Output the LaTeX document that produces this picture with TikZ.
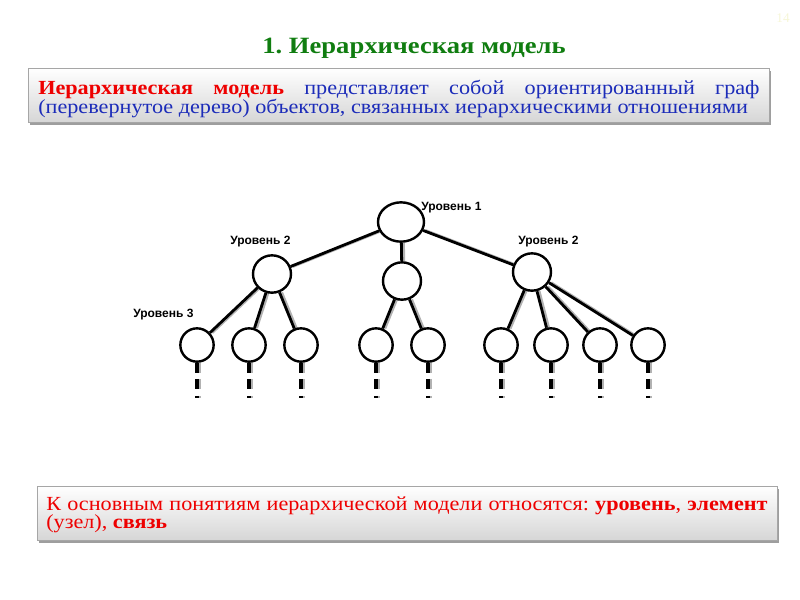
\documentclass[tikz,border=0pt]{standalone}
\usepackage{fontspec}
\usepackage{graphicx}
\setmainfont{Liberation Serif}
\newfontfamily\wserif[FakeStretch=1.11]{Liberation Serif}
\newfontfamily\tserif[FakeStretch=1.14]{Liberation Serif}
\newfontfamily\lsans{Liberation Sans}
\usetikzlibrary{shapes.geometric}
\definecolor{ttlgreen}{RGB}{16,125,16}
\definecolor{txtblue}{RGB}{28,44,185}
\definecolor{txtred}{RGB}{238,0,0}
\definecolor{pagenum}{RGB}{246,246,215}
\pgfdeclarelayer{bg}
\pgfsetlayers{bg,main}
\frenchspacing
\begin{document}
\begin{tikzpicture}[x=0.75pt,y=-0.75pt,
  lvl/.style={font=\lsans\bfseries\fontsize{9}{10}\selectfont, anchor=west, inner sep=0pt},
  root/.style={ellipse, draw, fill=white, line width=1.8pt, minimum width=34.5pt, minimum height=29.5pt, inner sep=0pt},
  mid/.style={ellipse, draw, fill=white, line width=1.8pt, minimum width=28.5pt, minimum height=28pt, inner sep=0pt},
  leaf/.style={circle, draw, fill=white, line width=1.8pt, minimum size=25pt, inner sep=0pt},
  link/.style={line width=2.1pt, black},
  linkshadow/.style={line width=2.1pt, black!30, transform canvas={xshift=1.6pt}},
  tail/.style={line width=2.3pt, black, dash pattern=on 7.5pt off 4.5pt on 7.5pt off 5.2pt on 2pt off 40pt},
  tailshadow/.style={line width=2.3pt, black!30, transform canvas={xshift=1.7pt}, dash pattern=on 7.5pt off 4.5pt on 7.5pt off 5.2pt on 2pt off 40pt},
  boxshadow/.style={fill=black!38, draw=none},
  panel/.style={top color=white, bottom color=black!16, draw=black!35, line width=0.6pt},
  body/.style={font=\wserif\fontsize{15}{17}\selectfont, anchor=base west, inner sep=0pt}
]
\useasboundingbox (0,0) rectangle (800,600);

% page number
\node (pg) [font=\fontsize{10}{12}\selectfont, text=pagenum, anchor=base] at (783,22) {14};

% title
\node (title) [font=\tserif\bfseries\fontsize{17.5}{20}\selectfont, text=ttlgreen, anchor=base, inner sep=0pt] at (414,53) {1. Иерархическая модель};

% box 1
\path[boxshadow] (30,71) rectangle (771,125);
\path[panel] (28,68) rectangle (769,122);
\node (b1a) [body] at (38,94) {\makebox[541pt][s]{\textcolor{txtred}{\bfseries Иерархическая модель} \textcolor{txtblue}{представляет собой ориентированный граф}}};
\node (b1b) [body, text=txtblue] at (38,113) {(перевернутое дерево) объектов, связанных иерархическими отношениями};

% box 2
\path[boxshadow] (39,489) rectangle (779,543);
\path[panel] (37,486) rectangle (777,540);
\node (b2a) [body, text=txtred] at (46,510) {\makebox[541pt][s]{К основным понятиям иерархической модели относятся: \textbf{уровень}, \textbf{элемент}}};
\node (b2b) [body, text=txtred] at (46,528) {(узел), \textbf{связь}};

% tree nodes
\node (r)  [root] at (401,222) {};
\node (a)  [mid]  at (272,274) {};
\node (b)  [mid]  at (402,281) {};
\node (c)  [mid]  at (532,272) {};
\node (a1) [leaf] at (197,345) {};
\node (a2) [leaf] at (249,345) {};
\node (a3) [leaf] at (301,345) {};
\node (b1) [leaf] at (376,345) {};
\node (b2) [leaf] at (428,345) {};
\node (c1) [leaf] at (501,345) {};
\node (c2) [leaf] at (551,345) {};
\node (c3) [leaf] at (600,345) {};
\node (c4) [leaf] at (648,345) {};

\foreach \n/\x in {a1/197,a2/249,a3/301,b1/376,b2/428,c1/501,c2/551,c3/600,c4/648}{
  \coordinate (t\n) at (\x,402);
}

\begin{pgfonlayer}{bg}
  \foreach \u/\v in {r/a,r/b,r/c,a/a1,a/a2,a/a3,b/b1,b/b2,c/c1,c/c2,c/c3,c/c4}{
    \draw[linkshadow] (\u) -- (\v);
    \draw[link] (\u) -- (\v);
  }
  \foreach \n in {a1,a2,a3,b1,b2,c1,c2,c3,c4}{
    \draw[tailshadow] (\n.south) -- (t\n);
    \draw[tail] (\n.south) -- (t\n);
  }
\end{pgfonlayer}

% level labels
\node (l1)  [lvl] at (421,208) {Уровень 1};
\node (l2a) [lvl] at (230,242) {Уровень 2};
\node (l2b) [lvl] at (518,242) {Уровень 2};
\node (l3)  [lvl] at (133,315) {Уровень 3};
\end{tikzpicture}
\end{document}
